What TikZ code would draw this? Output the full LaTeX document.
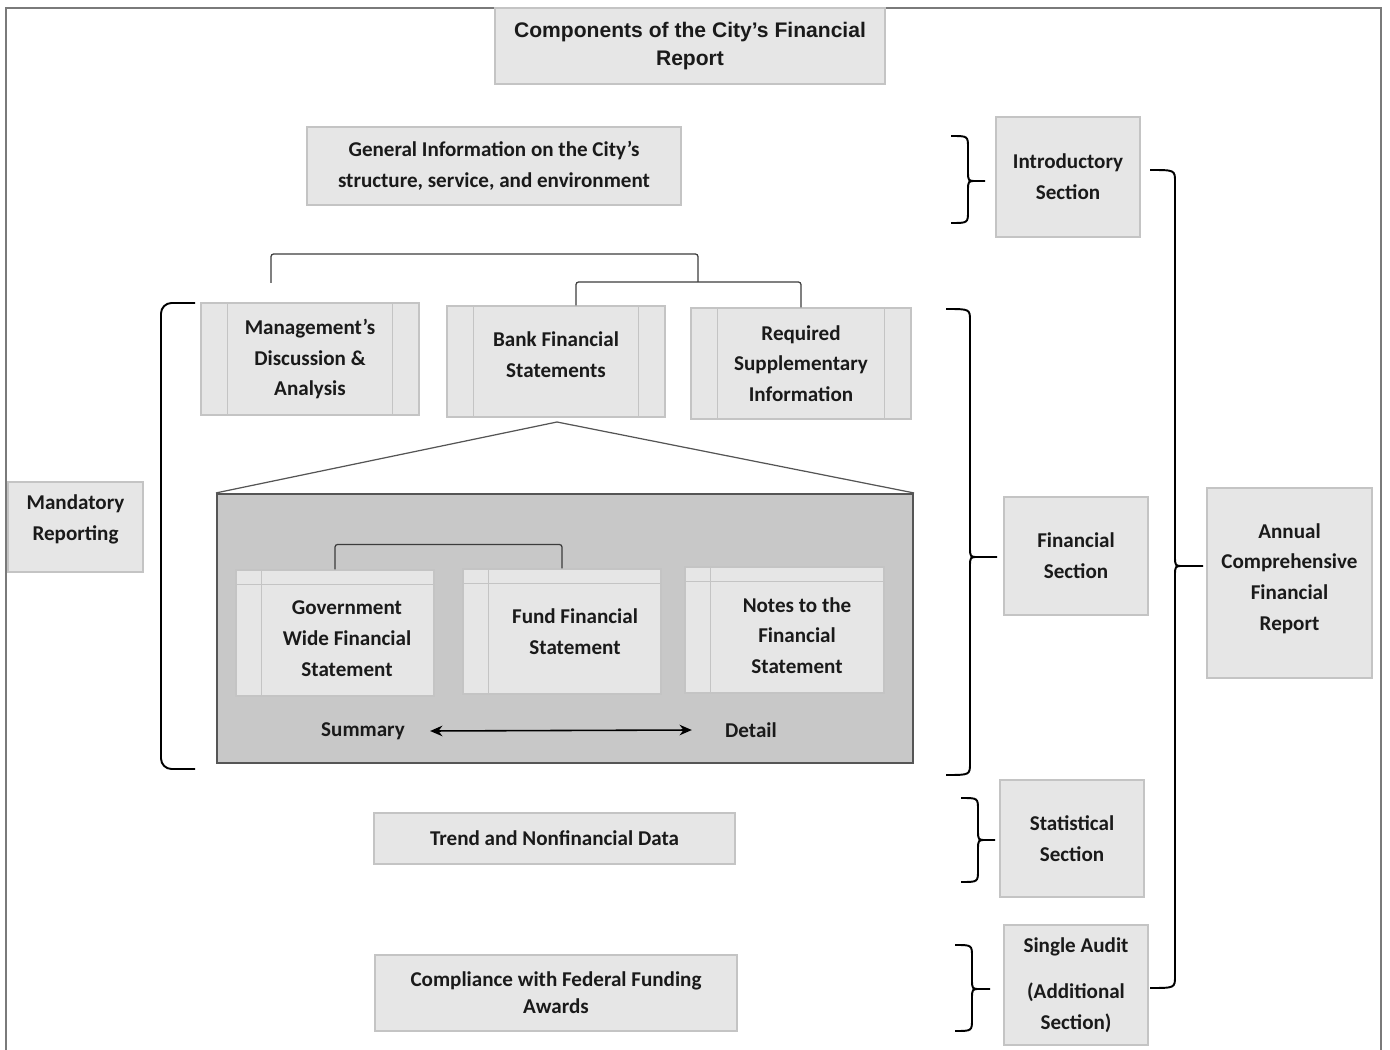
\documentclass[tikz,border=0pt]{standalone}
\usepackage{fontspec}
\setmainfont{Carlito}
\newfontfamily\arialfont{Liberation Sans}
\usetikzlibrary{arrows.meta}
\definecolor{boxfill}{HTML}{E6E6E6}
\definecolor{boxline}{HTML}{C4C4C4}
\definecolor{darkfill}{HTML}{C8C8C8}
\definecolor{darkline}{HTML}{555555}
\definecolor{ink}{HTML}{1A1A1A}
\definecolor{framecol}{HTML}{7A7A7A}
\newcommand\bracer[6]{%
 \draw[bracestyle] (#1,#4) .. controls (#2,#4) .. (#2,#4+12) -- (#2,#6-10) .. controls (#2,#6) .. (#2+8,#6) -- (#3,#6);
 \draw[bracestyle] (#2+8,#6) .. controls (#2,#6) .. (#2,#6+10) -- (#2,#5-12) .. controls (#2,#5) .. (#1,#5);}
\tikzset{
 box/.style={draw=boxline, fill=boxfill, line width=0.6pt, align=center, text=ink,
   font=\bfseries\fontsize{12}{17.5}\selectfont, inner sep=0pt},
 wh/.style 2 args={minimum width=#1*0.02cm, minimum height=#2*0.02cm},
 txt/.style={align=center, text=ink, font=\bfseries\fontsize{12}{17.5}\selectfont, inner sep=0pt},
 conn/.style={draw=ink!85, line width=0.7pt, rounded corners=1.5pt},
 bracestyle/.style={draw=black, line width=1.1pt},
 bar/.style={draw=boxline, line width=0.6pt},
 tri/.style={draw=darkline, line width=0.7pt},
 darkbox/.style={draw=darkline, fill=darkfill, line width=1.2pt, inner sep=0pt},
 arr/.style={draw=black, line width=0.9pt, {Stealth[length=7pt,width=6pt]}-{Stealth[length=7pt,width=6pt]}}
}
\begin{document}
\begin{tikzpicture}[x=0.02cm, y=-0.02cm]
\useasboundingbox (0,0) rectangle (1390,1050);
% outer frame
\draw[draw=framecol, line width=1pt] (6,1050) -- (6,8) -- (1381,8) -- (1381,1050);

% title and top boxes
\node[box, wh={390}{76}, font=\arialfont\bfseries\fontsize{12}{16}\selectfont] (title) at (690,46) {Components of the City’s Financial\\Report};
\node[box, wh={374}{78}] (general) at (494,166) {General Information on the City’s\\structure, service, and environment};
\node[box, wh={144}{120}] (intro) at (1068,177) {Introductory\\Section};

% three upper boxes with side bars
\node[box, wh={218}{112}] (mda) at (310,359) {Management’s\\Discussion \&\\Analysis};
\node[box, wh={218}{111}] (bank) at (556,361.5) {};
\node[txt] (bankt) at (556,354.5) {Bank Financial\\Statements};
\node[box, wh={220}{111}] (rsi) at (801,363.5) {Required\\Supplementary\\Information};
\foreach \n in {mda,bank,rsi}{
  \draw[bar] ([xshift=0.54cm]\n.north west) -- ([xshift=0.54cm]\n.south west);
  \draw[bar] ([xshift=-0.54cm]\n.north east) -- ([xshift=-0.54cm]\n.south east);
}

% tree connectors
\coordinate (j1) at (698,282);
\coordinate (mdatop) at (271,283);
\draw[conn] ([xshift=0.4cm]bank.north) |- (j1) -| (rsi.north);
\draw[conn] (j1) -- (698,254) -| (mdatop);

% expanded detail box
\node[darkbox, wh={696}{269}] (dark) at (565,628.5) {};
\coordinate (apex) at (557,422);
\draw[tri] (apex) -- (dark.north west);
\draw[tri] (apex) -- (dark.north east);

\node[box, wh={198}{126}] (gov) at (335,633) {};
\node[box, wh={198}{125}] (fund) at (562,631.5) {};
\node[box, wh={199}{126}] (notes) at (784.5,630) {};
\foreach \n in {gov,fund,notes}{
  \draw[bar] ([yshift=-0.3cm]\n.north west) -- ([yshift=-0.3cm]\n.north east);
  \draw[bar] ([xshift=0.52cm]\n.north west) -- ([xshift=0.52cm]\n.south west);
}
\node[txt] (govt) at (347,638.5) {Government\\Wide Financial\\Statement};
\node[txt] (fundt) at (575,631.5) {Fund Financial\\Statement};
\node[txt] (notest) at (797,635.5) {Notes to the\\Financial\\Statement};
\draw[conn] (gov.north) -- ++(0,-25) -| (fund.north);

\node[txt] (summary) at (363,731) {Summary};
\node[txt] (detail) at (751,730) {Detail};
\draw[arr] ([xshift=0.5cm]summary.east) -- ([xshift=-0.66cm]detail.west);

% left side
\node[box, wh={135}{90}] (mand) at (75.5,527) {};
\node[txt] (mandt) at (75.5,519.5) {Mandatory\\Reporting};
\draw[bracestyle, rounded corners=6pt] (195,303) -- (161,303) -- (161,769) -- (195,769);

% right side sections
\node[box, wh={144}{118}] (finsec) at (1076,556) {Financial\\Section};
\node[box, wh={165}{190}] (annual) at (1289.5,583) {};
\node[txt] (annualt) at (1289.5,578.5) {Annual\\Comprehensive\\Financial\\Report};
\node[box, wh={361}{51}] (trend) at (554.5,838.5) {Trend and Nonfinancial Data};
\node[box, wh={144}{117}] (stat) at (1072,838.5) {Statistical\\Section};
\node[box, wh={362}{76}, font=\bfseries\fontsize{12}{15.4}\selectfont] (comp) at (556,993) {Compliance with Federal Funding\\Awards};
\node[box, wh={144}{120}] (single) at (1076,985) {Single Audit\\[8.5pt](Additional\\Section)};

% braces
\bracer{951}{968}{985}{136}{223}{181}
\bracer{946}{970}{997}{309}{775}{557}
\bracer{961}{978}{995}{798}{882}{840}
\bracer{955}{972}{990}{945}{1031}{989}
\bracer{1150}{1175}{1203}{170}{988}{566}
\end{tikzpicture}
\end{document}
